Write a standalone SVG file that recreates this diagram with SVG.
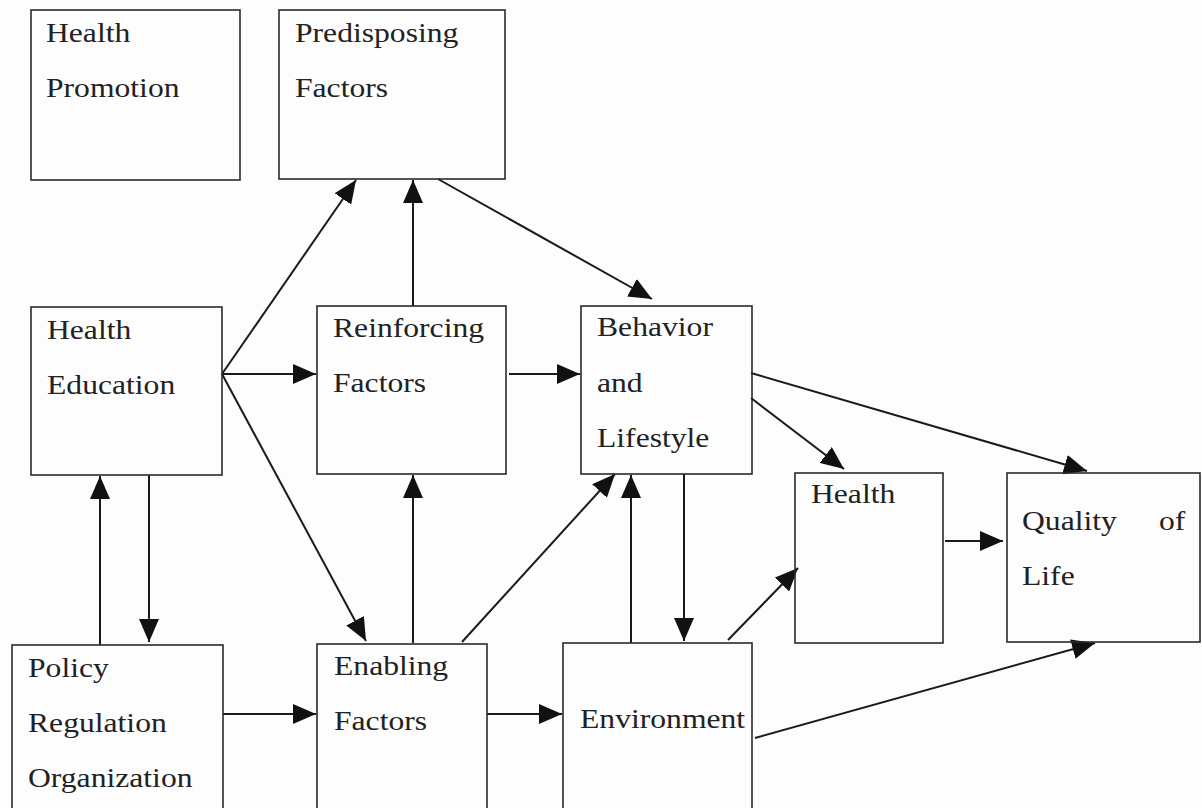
<svg xmlns="http://www.w3.org/2000/svg" width="1202" height="808" viewBox="0 0 1202 808">
<style>
.box{fill:none;stroke:#2a2a2a;stroke-width:1.6}
.t{font-size:28px;fill:#222}
.c{stroke:#1a1a1a;stroke-width:2;fill:none;marker-end:url(#ah)}
</style>
<defs>
<marker id="ah" markerUnits="userSpaceOnUse" markerWidth="24" markerHeight="20" refX="23" refY="10" orient="auto">
<path d="M0,0 L23,10 L0,20 z" fill="#111"/>
</marker>
</defs>
<rect width="1202" height="808" fill="#fdfdfd"/>
<g id="connectors">
<line class="c" x1="222" y1="374" x2="356" y2="180"/>
<line class="c" x1="222" y1="374" x2="316" y2="374"/>
<line class="c" x1="222" y1="374" x2="366" y2="641"/>
<line class="c" x1="413" y1="306" x2="413" y2="180"/>
<line class="c" x1="438" y1="179" x2="652" y2="299"/>
<line class="c" x1="509" y1="374" x2="580" y2="374"/>
<line class="c" x1="751" y1="398" x2="844" y2="469"/>
<line class="c" x1="751" y1="373" x2="1087" y2="471"/>
<line class="c" x1="684" y1="474" x2="684" y2="641"/>
<line class="c" x1="631" y1="643" x2="631" y2="475"/>
<line class="c" x1="462" y1="642" x2="615" y2="474"/>
<line class="c" x1="413" y1="643" x2="413" y2="475"/>
<line class="c" x1="728" y1="640" x2="798" y2="568"/>
<line class="c" x1="945" y1="541" x2="1003" y2="541"/>
<line class="c" x1="755" y1="738" x2="1095" y2="643"/>
<line class="c" x1="149" y1="475" x2="149" y2="642"/>
<line class="c" x1="100" y1="645" x2="100" y2="476"/>
<line class="c" x1="223" y1="714" x2="316" y2="714"/>
<line class="c" x1="487" y1="714" x2="562" y2="714"/>
</g>
<g font-family="Liberation Serif, serif">
<g id="health-promotion">
<rect class="box" x="31" y="10" width="209" height="170"/>
<text class="t" transform="translate(46,42) scale(1.13,1)">Health</text>
<text class="t" transform="translate(46,97) scale(1.13,1)">Promotion</text>
</g>
<g id="predisposing">
<rect class="box" x="279" y="10" width="226" height="169"/>
<text class="t" transform="translate(295,42) scale(1.13,1)">Predisposing</text>
<text class="t" transform="translate(295,97) scale(1.13,1)">Factors</text>
</g>
<g id="health-education">
<rect class="box" x="31" y="307" width="191" height="168"/>
<text class="t" transform="translate(47,339) scale(1.13,1)">Health</text>
<text class="t" transform="translate(47,394) scale(1.13,1)">Education</text>
</g>
<g id="reinforcing">
<rect class="box" x="317" y="306" width="189" height="168"/>
<text class="t" transform="translate(333,337) scale(1.13,1)">Reinforcing</text>
<text class="t" transform="translate(333,392) scale(1.13,1)">Factors</text>
</g>
<g id="behavior">
<rect class="box" x="581" y="306" width="171" height="168"/>
<text class="t" transform="translate(597,336) scale(1.13,1)">Behavior</text>
<text class="t" transform="translate(597,392) scale(1.13,1)">and</text>
<text class="t" transform="translate(597,447) scale(1.13,1)">Lifestyle</text>
</g>
<g id="health">
<rect class="box" x="795" y="473" width="148" height="170"/>
<text class="t" transform="translate(811,503) scale(1.13,1)">Health</text>
</g>
<g id="quality">
<rect class="box" x="1007" y="473" width="193" height="169"/>
<text class="t" transform="translate(1022,530) scale(1.13,1)">Quality</text>
<text class="t" transform="translate(1159,530) scale(1.13,1)">of</text>
<text class="t" transform="translate(1022,585) scale(1.13,1)">Life</text>
</g>
<g id="policy">
<rect class="box" x="12" y="645" width="211" height="170"/>
<text class="t" transform="translate(28,677) scale(1.13,1)">Policy</text>
<text class="t" transform="translate(28,732) scale(1.13,1)">Regulation</text>
<text class="t" transform="translate(28,787) scale(1.13,1)">Organization</text>
</g>
<g id="enabling">
<rect class="box" x="317" y="644" width="170" height="170"/>
<text class="t" transform="translate(334,675) scale(1.13,1)">Enabling</text>
<text class="t" transform="translate(334,730) scale(1.13,1)">Factors</text>
</g>
<g id="environment">
<rect class="box" x="563" y="643" width="189" height="170"/>
<text class="t" transform="translate(580,728) scale(1.13,1)">Environment</text>
</g>
</g>
</svg>
